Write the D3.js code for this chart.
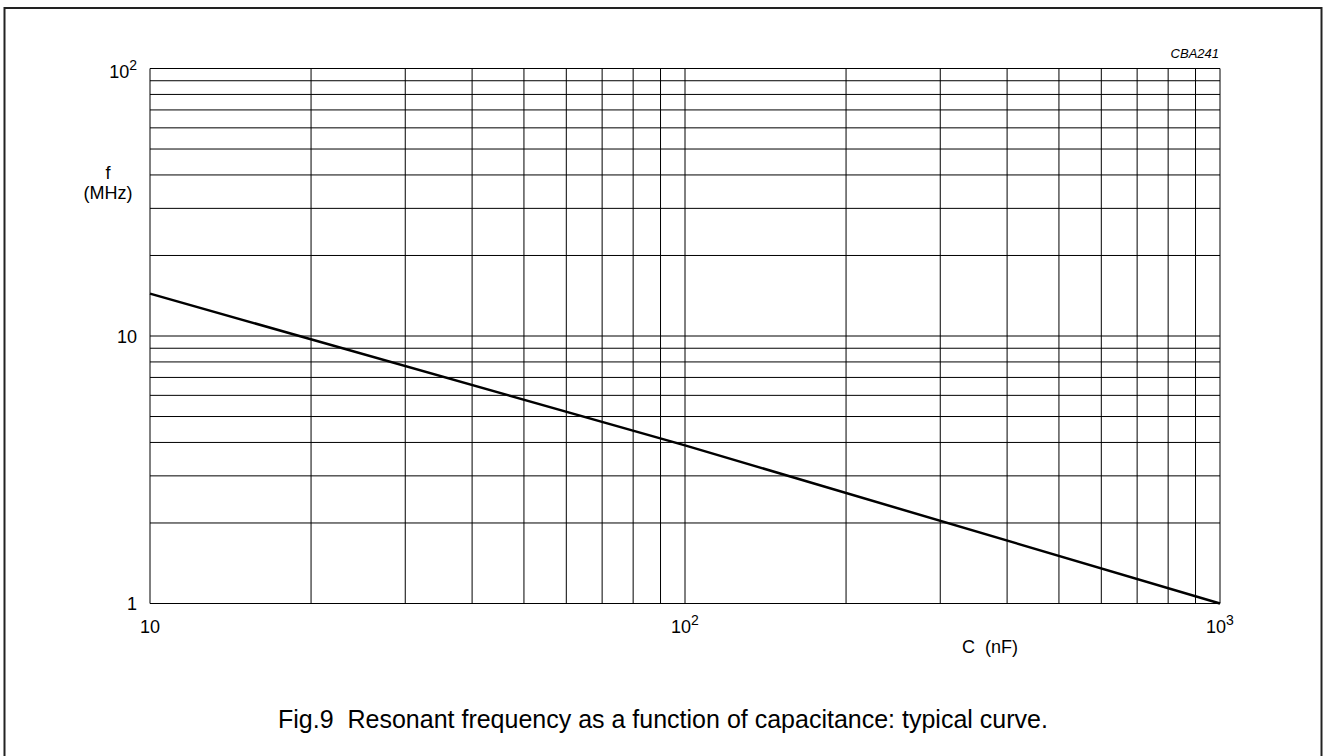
<!DOCTYPE html>
<html>
<head>
<meta charset="utf-8">
<script src="https://cdn.jsdelivr.net/npm/d3@7"></script>
<style>
  body { margin: 0; background: #fff; }
  text { font-family: "Liberation Sans", Arial, sans-serif; fill: #000; }
</style>
</head>
<body>
<div id="chart"></div>
<script>
// curve: C (nF) -> f (MHz)
var capacitance = [10, 100, 1000];
var frequency = [14.4, 3.9, 1.0];

// grid values
var xGrid = [10, 20, 30, 40, 50, 60, 70, 80, 90, 100, 200, 300, 400, 500, 600, 700, 800, 900, 1000];
var yGrid = [1, 2, 3, 4, 5, 6, 7, 8, 9, 10, 20, 30, 40, 50, 60, 70, 80, 90, 100];

// tick labels (value, mantissa, exponent)
var xLabels = [[10, "10", ""], [100, "10", "2"], [1000, "10", "3"]];
var yLabels = [[1, "1", ""], [10, "10", ""], [100, "10", "2"]];

var w = 1326, h = 756;
var plotLeft = 150, plotRight = 1220, plotTop = 68.5, plotBottom = 603.5;

var svg = d3.select("#chart").append("svg")
    .attr("width", w)
    .attr("height", h);

// outer frame (bottom edge falls below the picture)
svg.append("rect")
    .attr("x", 4.5).attr("y", 8)
    .attr("width", 1317).attr("height", 760)
    .attr("fill", "none")
    .attr("stroke", "#222")
    .attr("stroke-width", 2);

var x = d3.scaleLog().domain([10, 1000]).range([plotLeft, plotRight]);
var y = d3.scaleLog().domain([1, 100]).range([plotBottom, plotTop]);

// grid
svg.append("g").selectAll("line")
    .data(xGrid).enter().append("line")
    .attr("x1", d => x(d)).attr("x2", d => x(d))
    .attr("y1", plotTop).attr("y2", plotBottom)
    .attr("stroke", "#000").attr("stroke-width", 1);

svg.append("g").selectAll("line")
    .data(yGrid).enter().append("line")
    .attr("x1", plotLeft).attr("x2", plotRight)
    .attr("y1", d => y(d)).attr("y2", d => y(d))
    .attr("stroke", "#000").attr("stroke-width", 1);

// curve
var pts = capacitance.map((c, i) => [c, frequency[i]]);
svg.append("path")
    .datum(pts)
    .attr("fill", "none")
    .attr("stroke", "#000")
    .attr("stroke-width", 2.5)
    .attr("d", d3.line().x(d => x(d[0])).y(d => y(d[1])));

// y tick labels
yLabels.forEach(function(l) {
    var t = svg.append("text")
        .attr("x", 137)
        .attr("y", y(l[0]) + 6.5 + (l[2] ? 3 : 0))
        .attr("text-anchor", "end")
        .style("font-size", "18px")
        .text(l[1]);
    if (l[2]) t.append("tspan").attr("dy", -8).style("font-size", "14px").text(l[2]);
});

// x tick labels
xLabels.forEach(function(l) {
    var t = svg.append("text")
        .attr("x", x(l[0]))
        .attr("y", 633)
        .attr("text-anchor", "middle")
        .style("font-size", "18px")
        .text(l[1]);
    if (l[2]) t.append("tspan").attr("dy", -8).style("font-size", "14px").text(l[2]);
});

// axis titles
svg.append("text").attr("x", 108).attr("y", 179)
    .attr("text-anchor", "middle").style("font-size", "18px").text("f");
svg.append("text").attr("x", 108).attr("y", 199)
    .attr("text-anchor", "middle").style("font-size", "18px").text("(MHz)");
svg.append("text").attr("x", 962).attr("y", 653)
    .style("font-size", "18px").style("white-space", "pre")
    .text("C  (nF)");

// figure code
svg.append("text").attr("x", 1219).attr("y", 58)
    .attr("text-anchor", "end")
    .style("font-size", "13px").style("font-style", "italic")
    .text("CBA241");

// caption
svg.append("text").attr("x", 278).attr("y", 728)
    .style("font-size", "25px").style("white-space", "pre")
    .text("Fig.9  Resonant frequency as a function of capacitance: typical curve.");
</script>
</body>
</html>
